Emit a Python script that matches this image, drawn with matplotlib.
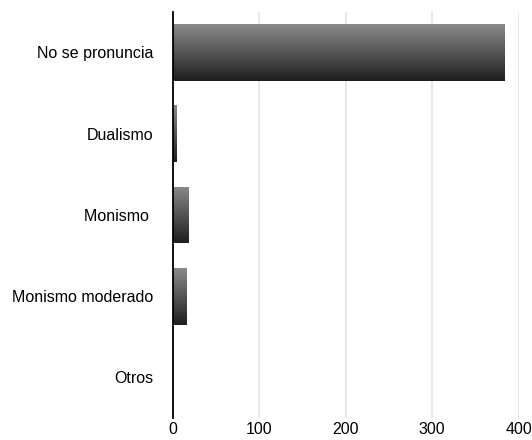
import numpy as np
import matplotlib
matplotlib.use("Agg")
import matplotlib.pyplot as plt

categories = ["No se pronuncia", "Dualismo", "Monismo ", "Monismo moderado", "Otros"]
values = [383, 4, 18, 16, 0]
xticks = [0, 100, 200, 300, 400]

plt.rcParams["font.family"] = ["Liberation Sans", "DejaVu Sans"]

fig = plt.figure(figsize=(5.32, 4.4), dpi=100)
ax = fig.add_axes([0.325, 0.05, 0.650, 0.923])

ypos = np.arange(len(categories))
bars = ax.barh(ypos, values, height=0.7, color="#444444", zorder=2)

# vertical gradient inside each bar, light on top, dark at bottom
grad = np.linspace(0, 1, 256).reshape(-1, 1)
for b in bars:
    if b.get_width() <= 0:
        continue
    x0, y0 = b.get_x(), b.get_y()
    x1, y1 = x0 + b.get_width(), y0 + b.get_height()
    im = ax.imshow(grad, cmap=matplotlib.colors.LinearSegmentedColormap.from_list(
        "g", ["#8a8a8a", "#1e1e1e"]), aspect="auto",
        extent=[x0, x1, y0, y1], origin="lower", zorder=3)
    im.set_clip_path(b)
    b.set_alpha(0)

ax.set_ylim(len(categories) - 0.5, -0.5)
ax.set_xlim(0, 400)
ax.set_xticks(xticks)
ax.set_yticks(ypos)
ax.set_yticklabels(categories, fontsize=11.5)
ax.tick_params(axis="x", labelsize=11.5, length=0, pad=3)
ax.tick_params(axis="y", length=0, pad=14)

ax.grid(axis="x", color="#e4e4e4", linewidth=1.2, zorder=0)
ax.set_axisbelow(True)
for s in ["top", "right", "bottom"]:
    ax.spines[s].set_visible(False)
ax.spines["left"].set_linewidth(1.3)
ax.spines["left"].set_color("black")
ax.spines["left"].set_zorder(5)

plt.savefig("out.png", dpi=100, facecolor="white")
